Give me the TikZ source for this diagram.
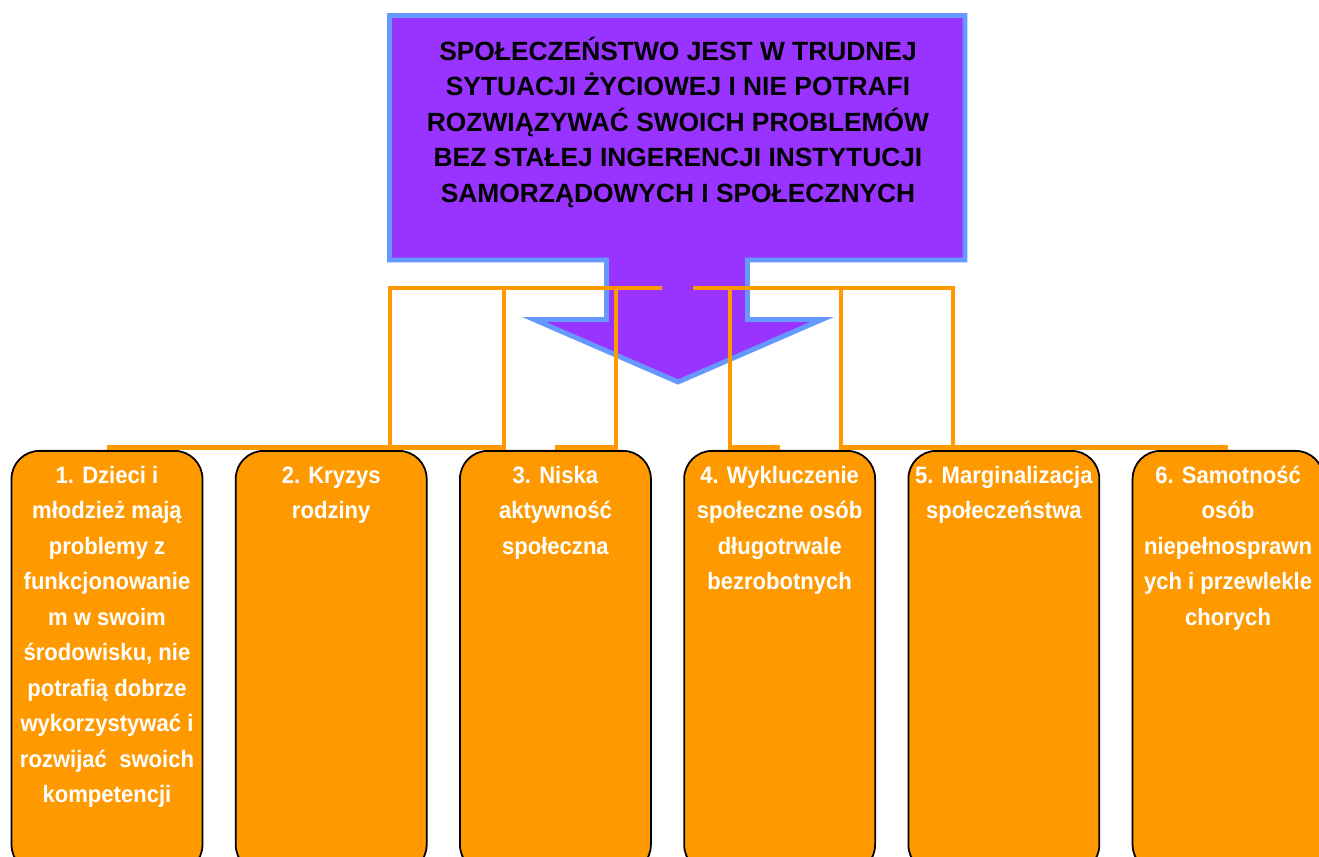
\documentclass[tikz,border=0pt]{standalone}
\usepackage{fontspec}
\setmainfont{Liberation Sans}
\newfontfamily\areafont{Liberation Sans}[FakeStretch=0.93]
\usetikzlibrary{positioning}
\definecolor{areaorange}{HTML}{FF9900}
\definecolor{headpurple}{HTML}{9933FF}
\definecolor{headblue}{HTML}{6699FF}

\begin{document}
\begin{tikzpicture}[x=0.02cm, y=-0.02cm,
  head/.style={draw=headblue, fill=headpurple, line width=2.8pt},
  link/.style={draw=areaorange, line width=2.6pt},
  area/.style={draw=black, fill=areaorange, line width=1pt, rounded corners=0.56cm,
    minimum width=3.82cm, minimum height=8.44cm, inner sep=0pt},
  areatext/.style={text=white, align=center, inner sep=0pt,
    font=\areafont\bfseries\fontsize{13.5}{20.2}\selectfont}
]
  \useasboundingbox (0,0) rectangle (1319,857);
  \clip (0,0) rectangle (1319,857);

  % header with arrow
  \draw[head] (389.5,15.5) -- (965,15.5) -- (965,260) -- (747.5,260) -- (747.5,319.5)
    -- (822,319.5) -- (678,382) -- (534,319.5) -- (606.5,319.5) -- (606.5,260)
    -- (389.5,260) -- cycle;
  \node[anchor=north, align=center, inner sep=0pt,
    font=\bfseries\fontsize{15}{20.2}\selectfont] (problem) at (678,35)
    {\strut SPOŁECZEŃSTWO JEST W TRUDNEJ\\SYTUACJI ŻYCIOWEJ I NIE POTRAFI\\
     ROZWIĄZYWAĆ SWOICH PROBLEMÓW\\BEZ STAŁEJ INGERENCJI INSTYTUCJI\\
     SAMORZĄDOWYCH I SPOŁECZNYCH};

  % problem areas
  \node[area, anchor=north] (a1) at (107,450) {};
  \node[area, right=0.63cm of a1] (a2) {};
  \node[area, right=0.63cm of a2] (a3) {};
  \node[area, right=0.63cm of a3] (a4) {};
  \node[area, right=0.63cm of a4] (a5) {};
  \node[area, right=0.63cm of a5] (a6) {};

  \node[areatext, below=0.16cm of a1.north] (t1) {\strut 1. Dzieci i\\młodzież mają\\
    problemy z\\funkcjonowanie\\m w swoim\\środowisku, nie\\potrafią dobrze\\
    wykorzystywać i\\rozwijać\ \ swoich\\kompetencji};
  \node[areatext, below=0.16cm of a2.north] (t2) {\strut 2. Kryzys\\rodziny};
  \node[areatext, below=0.16cm of a3.north] (t3) {\strut 3. Niska\\aktywność\\społeczna};
  \node[areatext, below=0.16cm of a4.north] (t4) {\strut 4. Wykluczenie\\społeczne osób\\
    długotrwale\\bezrobotnych};
  \node[areatext, below=0.16cm of a5.north] (t5) {\strut 5. Marginalizacja\\społeczeństwa};
  \node[areatext, below=0.16cm of a6.north] (t6) {\strut 6. Samotność\\osób\\
    niepełnosprawn\\ych i przewlekle\\chorych};

  % connectors
  \coordinate (jl) at (662,288);
  \coordinate (jr) at (693,288);
  \draw[link] ([yshift=1.4pt]a1.north) -| (390,288) -- (jl);
  \draw[link] ([yshift=1.4pt]a2.north) -| (504,288) -- (jl);
  \draw[link] ([yshift=1.4pt]a3.north) -| (616,288) -- (jl);
  \draw[link] ([yshift=1.4pt]a4.north) -| (730,288) -- (jr);
  \draw[link] ([yshift=1.4pt]a5.north) -| (841,288) -- (jr);
  \draw[link] ([yshift=1.4pt]a6.north) -| (953,288) -- (jr);
\end{tikzpicture}
\end{document}
